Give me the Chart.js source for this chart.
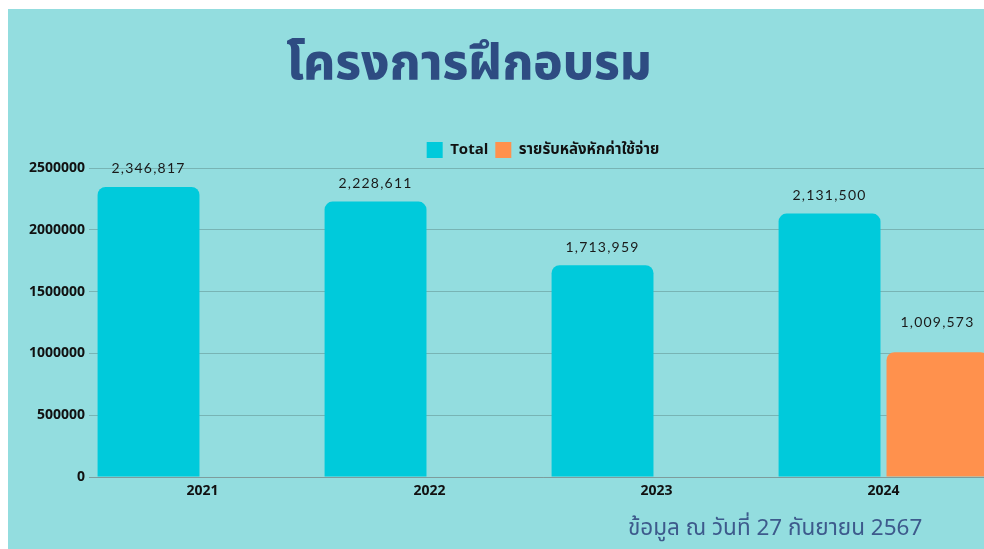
<!DOCTYPE html>
<html>
<head>
<meta charset="utf-8">
<script src="https://cdn.jsdelivr.net/npm/chart.js@4.4.1/dist/chart.umd.min.js"></script>
<style>
  html, body { margin: 0; padding: 0; width: 984px; height: 549px; overflow: hidden; background: #ffffff; }
  #panel { position: absolute; left: 8px; top: 9px; width: 976px; height: 540px; background: #93DDDF; }
  #wrap { position: absolute; left: 0; top: 0; width: 1100px; height: 549px; }
  #title { position: absolute; left: 0; width: 938px; top: 30px; text-align: center;
           font-family: "Noto Sans Thai", "Noto Sans Thai Looped", "Loma", "Garuda", "Tlwg Typo", "DejaVu Sans", sans-serif;
           font-weight: 800; font-size: 49px; line-height: 68px; color: #2E4C82; }
  #footer { position: absolute; left: 628px; top: 512px; white-space: nowrap;
            font-family: "Noto Sans Thai", "Loma", "Garuda", "DejaVu Sans", sans-serif;
            font-size: 22.5px; line-height: 32px; color: #3D5A8C; }
</style>
</head>
<body>
<div id="panel"></div>
<div id="title">โครงการฝึกอบรม</div>
<div id="wrap"><canvas id="c" width="1100" height="549"></canvas></div>
<div id="footer">ข้อมูล ณ วันที่ 27 กันยายน 2567</div>
<script>
const categories = ["2021", "2022", "2023", "2024"];
const totalValues = [2346817, 2228611, 1713959, 2131500];
const netValues = [null, null, null, 1009573];
const seriesNames = ["Total", "รายรับหลังหักค่าใช้จ่าย"];
const yTicks = [0, 500000, 1000000, 1500000, 2000000, 2500000];

const labelPlugin = {
  id: 'barLabels',
  afterDatasetsDraw(chart) {
    const ctx = chart.ctx;
    ctx.save();
    ctx.font = '14px Lato, "Open Sans", sans-serif';
    try { ctx.letterSpacing = '1.2px'; } catch (e) {}
    ctx.fillStyle = '#1a1a1a';
    ctx.textAlign = 'center';
    ctx.textBaseline = 'middle';
    chart.data.datasets.forEach((ds, di) => {
      const meta = chart.getDatasetMeta(di);
      meta.data.forEach((bar, i) => {
        const v = ds.data[i];
        if (v === null || v === undefined) return;
        const off = di === 0 ? 18 : 30;
        ctx.fillText(v.toLocaleString('en-US'), bar.x, bar.y - off);
      });
    });
    ctx.restore();
  }
};

new Chart(document.getElementById('c'), {
  type: 'bar',
  data: {
    labels: categories,
    datasets: [
      { label: seriesNames[0], data: totalValues, backgroundColor: '#00CADB',
        borderRadius: { topLeft: 8, topRight: 8 }, borderSkipped: 'start' },
      { label: seriesNames[1], data: netValues, backgroundColor: '#FF914D',
        borderRadius: { topLeft: 8, topRight: 8 }, borderSkipped: 'start' }
    ]
  },
  options: {
    responsive: false,
    animation: false,
    devicePixelRatio: 1,
    layout: { padding: { left: 0, right: 103, top: 135, bottom: 32 } },
    datasets: { bar: { categoryPercentage: 0.951, barPercentage: 0.944 } },
    plugins: {
      legend: {
        position: 'top', fullSize: false,
        labels: { boxWidth: 16, boxHeight: 16, padding: 7, color: '#111',
          font: { size: 15, weight: 'bold', family: '"Open Sans", "Noto Sans Thai", sans-serif' } }
      },
      tooltip: { enabled: false }
    },
    scales: {
      x: {
        grid: { display: false, drawTicks: false },
        border: { display: true, color: '#7E9C9C', width: 1 },
        ticks: { color: '#111', padding: 6, font: { size: 14, weight: 'bold', family: '"Open Sans", sans-serif' } },
        afterFit(s) { s.height = 40; }
      },
      y: {
        min: 0, max: 2500000,
        afterBuildTicks(s) { s.ticks = yTicks.map(v => ({ value: v })); },
        grid: { color: '#78B4B4', drawTicks: false },
        border: { display: false },
        ticks: { color: '#111', padding: 4, font: { size: 14, weight: 'bold', family: '"Open Sans", sans-serif' },
          callback: v => String(v) },
        afterFit(s) { s.width = 89; }
      }
    }
  },
  plugins: [labelPlugin]
});
</script>
</body>
</html>
